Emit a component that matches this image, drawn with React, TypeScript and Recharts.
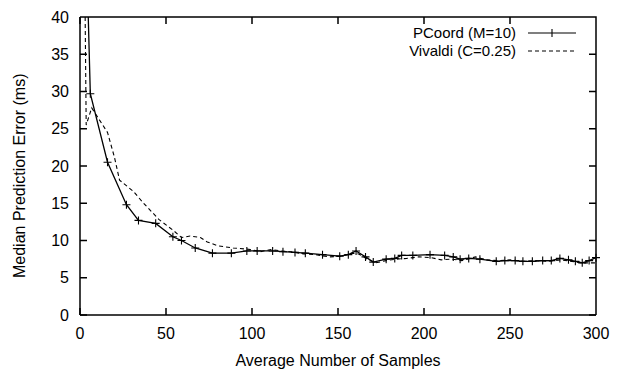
import { LineChart, Line, XAxis, YAxis } from 'recharts';

// PCoord (M=10): [average number of samples, median prediction error (ms)]
const pcoordX = [4.8, 6, 16, 27, 34, 44, 54, 59, 67, 77, 88, 97, 103, 112, 118, 125, 131, 141, 151, 156, 160.5, 166, 170.5, 178, 183, 187, 193.5, 203.5, 212, 217, 221, 226, 232.5, 242, 247, 253, 257.5, 263, 269, 274, 279, 284, 288, 292, 296, 300];
const pcoordY = [40, 29.7, 20.5, 14.8, 12.7, 12.3, 10.5, 10.0, 9.0, 8.3, 8.3, 8.6, 8.6, 8.6, 8.5, 8.4, 8.3, 8.1, 7.9, 8.1, 8.6, 7.8, 7.1, 7.5, 7.6, 8.0, 8.0, 8.1, 8.0, 7.8, 7.5, 7.6, 7.5, 7.2, 7.3, 7.3, 7.2, 7.2, 7.3, 7.3, 7.6, 7.4, 7.2, 7.0, 7.3, 7.7];
// points that carry a "+" marker (the first one is where the curve leaves the frame)
const pcoordMarked = pcoordX.map((_, i) => i > 0);

// Vivaldi (C=0.25)
const vivaldiX = [3, 3.6, 6.8, 16, 20, 23, 31, 37, 46, 54, 59, 64, 70, 74, 80, 89, 99, 105, 111, 117, 123, 130, 137, 145, 152, 158, 162, 167, 172, 178, 184, 190, 197, 204, 210, 216, 222, 230, 236, 243, 250, 258, 265, 272, 279, 286, 292, 300];
const vivaldiY = [40, 25.5, 27.8, 24.5, 21.2, 18.1, 16.6, 15.0, 12.8, 11.4, 10.4, 10.6, 10.4, 9.8, 9.3, 9.0, 8.8, 8.5, 8.8, 8.6, 8.5, 8.2, 8.1, 7.8, 7.9, 8.3, 8.2, 7.5, 7.0, 7.3, 7.5, 7.6, 7.8, 7.7, 7.4, 7.5, 7.3, 7.8, 7.4, 7.3, 7.4, 7.2, 7.3, 7.2, 7.4, 7.2, 7.0, 7.0];

const xTicks = [0, 50, 100, 150, 200, 250, 300];
const yTicks = [0, 5, 10, 15, 20, 25, 30, 35, 40];
const X_MAX = 300;
const Y_MAX = 40;

const pcoord = pcoordX.map((x, i) => ({ x, y: pcoordY[i], marked: pcoordMarked[i] }));
const vivaldi = vivaldiX.map((x, i) => ({ x, y: vivaldiY[i] }));

const FONT = '"Liberation Sans", Arial, Helvetica, sans-serif';
const W = 617;
const H = 373;
const MARGIN = { top: 17, right: 21, left: 0, bottom: 0 };
const Y_AXIS_W = 80;
const X_AXIS_H = 58;
const TICK = 7;

// plot box, from the margins and axis sizes given to the chart
const plotL = MARGIN.left + Y_AXIS_W;
const plotR = W - MARGIN.right;
const plotT = MARGIN.top;
const plotB = H - MARGIN.bottom - X_AXIS_H;

// gnuplot style frame: full border with short inward ticks on all four sides
function Frame() {
  const px = (v: number) => plotL + (v / X_MAX) * (plotR - plotL);
  const py = (v: number) => plotB - (v / Y_MAX) * (plotB - plotT);
  let d = `M${plotL},${plotT}H${plotR}V${plotB}`;
  for (const t of xTicks) {
    d += `M${px(t)},${plotB}V${plotB - TICK}M${px(t)},${plotT}V${plotT + TICK}`;
  }
  for (const t of yTicks) {
    d += `M${plotL},${py(t)}H${plotL + TICK}M${plotR},${py(t)}H${plotR - TICK}`;
  }
  return (
    <svg width={W} height={H} style={{ position: 'absolute', left: 0, top: 0, pointerEvents: 'none' }}>
      <path d={d} stroke="#000" strokeWidth={1.5} fill="none" />
    </svg>
  );
}

function PlusDot({ cx, cy, index, payload }: any) {
  if (cx == null || cy == null || !payload?.marked) return <g key={`p-${index}`} />;
  return (
    <path
      key={`p-${index}`}
      d={`M${cx - 4},${cy}H${cx + 4}M${cx},${cy - 4}V${cy + 4}`}
      stroke="#000"
      strokeWidth={1.1}
      fill="none"
    />
  );
}

function LegendBox() {
  const rows = [
    { label: 'PCoord (M=10)', dash: undefined, plus: true },
    { label: 'Vivaldi (C=0.25)', dash: '4 3', plus: false },
  ];
  return (
    <div
      style={{
        position: 'absolute',
        top: 24,
        right: 41,
        width: 220,
        fontFamily: FONT,
        fontSize: 15,
        lineHeight: '18px',
        color: '#000',
      }}
    >
      {rows.map((r) => (
        <div key={r.label} style={{ display: 'flex', alignItems: 'center', height: 18, justifyContent: 'flex-end' }}>
          <span style={{ whiteSpace: 'nowrap' }}>{r.label}</span>
          <svg width={60} height={18} style={{ display: 'block' }}>
            <line x1={12} y1={9} x2={60} y2={9} stroke="#000" strokeWidth={1.2} strokeDasharray={r.dash} />
            {r.plus && <path d="M36,5V13" stroke="#000" strokeWidth={1.1} />}
          </svg>
        </div>
      ))}
    </div>
  );
}

export default function App() {
  return (
    <div style={{ position: 'absolute', left: 0, top: 0, width: W, height: H, background: '#fff' }}>
      <LineChart width={W} height={H} margin={MARGIN}>
        <XAxis
          type="number"
          dataKey="x"
          domain={[0, X_MAX]}
          ticks={xTicks}
          height={X_AXIS_H}
          tickLine={false}
          tickSize={0}
          tickMargin={13}
          tick={{ fontSize: 16, fontFamily: FONT, fill: '#000' }}
          axisLine={{ stroke: '#000', strokeWidth: 1.5 }}
          label={{ value: 'Average Number of Samples', position: 'insideBottom', offset: 7, fontSize: 16, fontFamily: FONT, fill: '#000' }}
        />
        <YAxis
          type="number"
          domain={[0, Y_MAX]}
          ticks={yTicks}
          width={Y_AXIS_W}
          tickLine={false}
          tickSize={0}
          tickMargin={11}
          tick={{ fontSize: 16, fontFamily: FONT, fill: '#000' }}
          axisLine={{ stroke: '#000', strokeWidth: 1.5 }}
          label={{ value: 'Median Prediction Error (ms)', angle: -90, position: 'insideLeft', offset: 19, dy: 112, fontSize: 16, fontFamily: FONT, fill: '#000' }}
        />
        <Line
          data={vivaldi}
          dataKey="y"
          type="linear"
          stroke="#000"
          strokeWidth={1.1}
          strokeDasharray="4 3"
          dot={false}
          isAnimationActive={false}
        />
        <Line
          data={pcoord}
          dataKey="y"
          type="linear"
          stroke="#000"
          strokeWidth={1.3}
          dot={<PlusDot />}
          isAnimationActive={false}
        />
      </LineChart>
      <Frame />
      <LegendBox />
    </div>
  );
}
